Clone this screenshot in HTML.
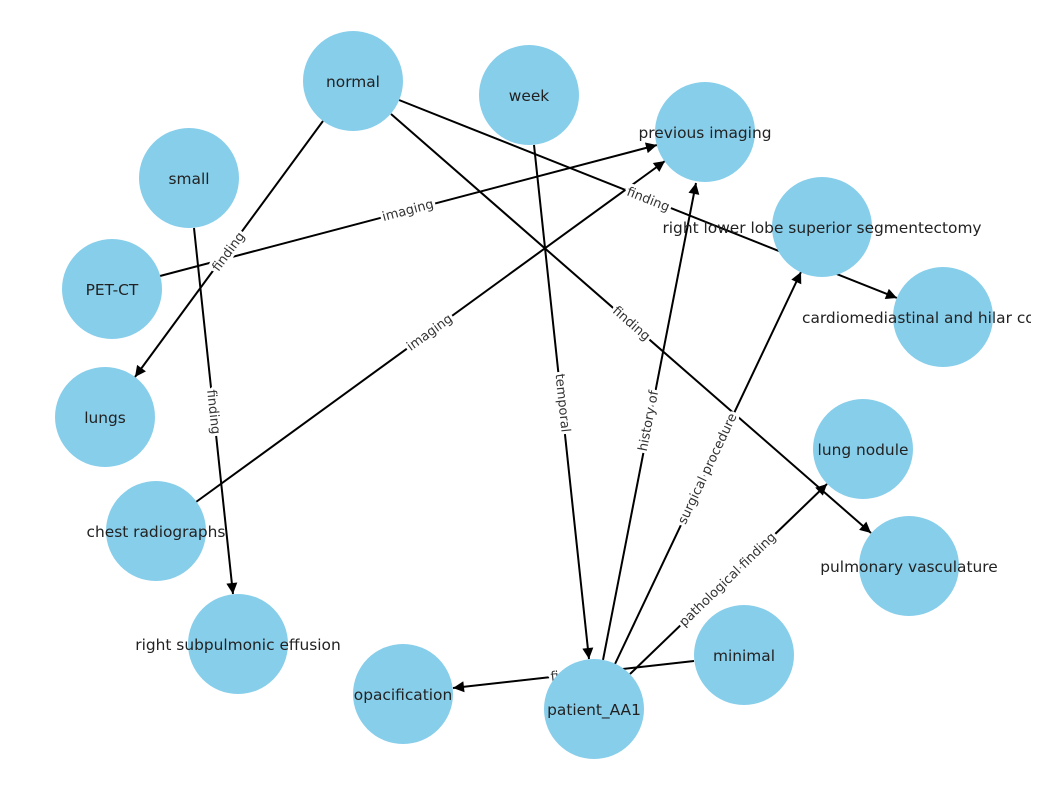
<!DOCTYPE html>
<html><head><meta charset="utf-8"><style>
html,body{margin:0;padding:0;background:#fff;}
svg{display:block;}
.n{fill:#87ceeb;}
.t{font-family:"DejaVu Sans","Liberation Sans",sans-serif;font-size:15.4px;fill:#222;text-anchor:middle;dominant-baseline:central;}
.e{stroke:#000;stroke-width:2;fill:none;}
.l{font-family:"DejaVu Sans","Liberation Sans",sans-serif;font-size:13px;fill:#333;text-anchor:middle;dominant-baseline:central;paint-order:stroke;stroke:#fff;stroke-width:6px;stroke-linejoin:round;}
</style></head><body>
<svg width="1047" height="791" viewBox="0 0 1047 791" xmlns="http://www.w3.org/2000/svg">
<defs>
<marker id="b" viewBox="0 0 10 10" refX="10" refY="5" markerWidth="13" markerHeight="11" markerUnits="userSpaceOnUse" orient="auto">
<path d="M0,0 L10,5 L0,10 z" fill="#000"/></marker>
<clipPath id="c"><rect x="0" y="0" width="1031" height="791"/></clipPath>
</defs>
<g marker-end="url(#b)">
<line class="e" x1="323" y1="121" x2="135" y2="377"/>
<line class="e" x1="399" y1="100" x2="897" y2="298"/>
<line class="e" x1="391" y1="114" x2="871" y2="533"/>
<line class="e" x1="534" y1="145" x2="589" y2="659"/>
<line class="e" x1="194" y1="228" x2="233" y2="594"/>
<line class="e" x1="160" y1="276" x2="657" y2="145"/>
<line class="e" x1="196" y1="502" x2="665" y2="161"/>
<line class="e" x1="603" y1="660" x2="696" y2="183"/>
<line class="e" x1="615" y1="664" x2="801" y2="272"/>
<line class="e" x1="630" y1="674" x2="827" y2="484"/>
<line class="e" x1="694" y1="661" x2="453" y2="688"/>
</g>
<text class="l" transform="translate(229,252) rotate(-53.6)">finding</text>
<text class="l" transform="translate(648,200) rotate(21.8)">finding</text>
<text class="l" transform="translate(631,324) rotate(41.1)">finding</text>
<text class="l" transform="translate(562,403) rotate(84)">temporal</text>
<text class="l" transform="translate(213,412) rotate(84)">finding</text>
<text class="l" transform="translate(408,211) rotate(-14.8)">imaging</text>
<text class="l" transform="translate(430,333) rotate(-36)">imaging</text>
<text class="l" transform="translate(649,421) rotate(-79.1)">history of</text>
<text class="l" transform="translate(708,469) rotate(-64.7)">surgical procedure</text>
<text class="l" transform="translate(728,580) rotate(-44)">pathological finding</text>
<text class="l" transform="translate(573,675) rotate(-6.5)">finding</text>
<g>
<circle class="n" cx="353" cy="81" r="50"/>
<circle class="n" cx="529" cy="95" r="50"/>
<circle class="n" cx="705" cy="132" r="50"/>
<circle class="n" cx="189" cy="178" r="50"/>
<circle class="n" cx="822" cy="227" r="50"/>
<circle class="n" cx="112" cy="289" r="50"/>
<circle class="n" cx="943" cy="317" r="50"/>
<circle class="n" cx="105" cy="417" r="50"/>
<circle class="n" cx="863" cy="449" r="50"/>
<circle class="n" cx="156" cy="531" r="50"/>
<circle class="n" cx="909" cy="566" r="50"/>
<circle class="n" cx="238" cy="644" r="50"/>
<circle class="n" cx="744" cy="655" r="50"/>
<circle class="n" cx="403" cy="694" r="50"/>
<circle class="n" cx="594" cy="709" r="50"/>
</g>
<g clip-path="url(#c)">
<text class="t" x="353" y="82">normal</text>
<text class="t" x="529" y="96">week</text>
<text class="t" x="705" y="133">previous imaging</text>
<text class="t" x="189" y="179">small</text>
<text class="t" x="822" y="228">right lower lobe superior segmentectomy</text>
<text class="t" x="112" y="290">PET-CT</text>
<text class="t" x="943" y="318">cardiomediastinal and hilar contours</text>
<text class="t" x="105" y="418">lungs</text>
<text class="t" x="863" y="450">lung nodule</text>
<text class="t" x="156" y="532">chest radiographs</text>
<text class="t" x="909" y="567">pulmonary vasculature</text>
<text class="t" x="238" y="645">right subpulmonic effusion</text>
<text class="t" x="744" y="656">minimal</text>
<text class="t" x="403" y="695">opacification</text>
<text class="t" x="594" y="710">patient_AA1</text>
</g>
</svg>
</body></html>
